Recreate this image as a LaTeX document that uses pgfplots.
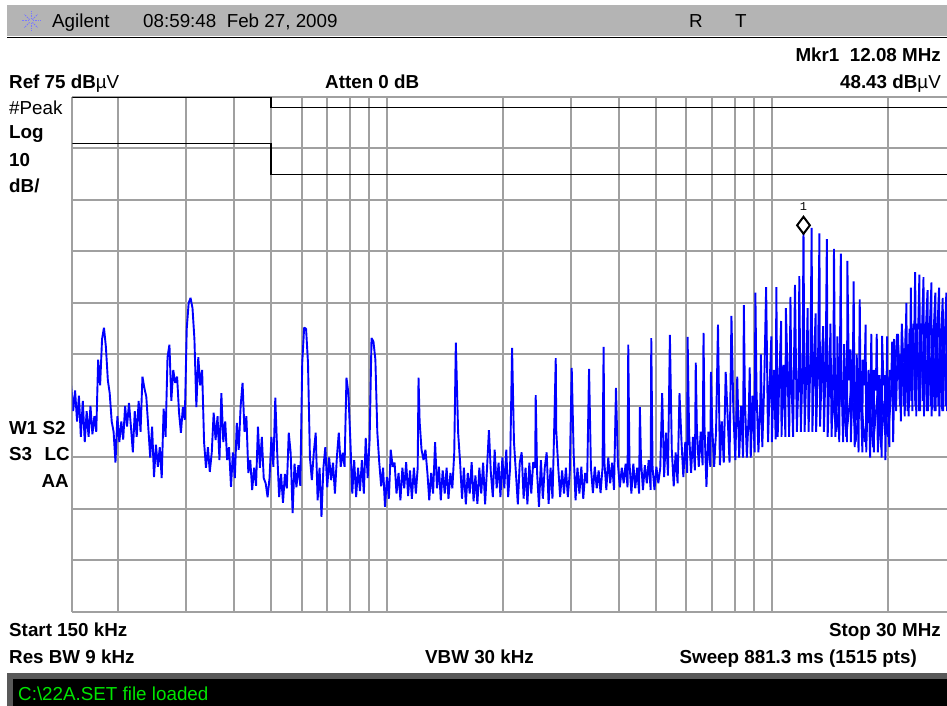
\documentclass[border=0pt]{standalone}
\usepackage{fontspec}
\setmainfont{Liberation Sans}
\setmonofont{Liberation Mono}
\usepackage{pgfplots}
\pgfplotsset{compat=1.18}
\definecolor{gridgray}{RGB}{160,160,160}
\definecolor{bargray}{RGB}{180,180,180}
\definecolor{tracecol}{RGB}{0,0,255}
\definecolor{msggreen}{RGB}{0,230,0}
\definecolor{logoblue}{RGB}{120,120,255}
\newcommand\lab{\fontsize{18.8}{20}\selectfont}
\begin{document}
\begin{tikzpicture}[x=1pt,y=1pt]
\useasboundingbox (0,0) rectangle (947,706);
\fill[white] (0,0) rectangle (947,706);
% top bar
\fill[bargray] (7,670) rectangle (947,701);
\draw[black,line width=1.5pt] (7,668.5) -- (947,668.5);
\foreach \a in {0,45,...,315} \draw[logoblue,line width=1pt,dash pattern=on 1.4pt off 1pt] (31,685) ++(\a:2) -- ++(\a:7.5);
% bottom bar
\fill[gray!70!black] (7,0) rectangle (947,33);
\fill[black] (13,0) rectangle (947,27);
\begin{axis}[at={(72.5pt,94pt)}, anchor=south west, scale only axis,
  width=874.5pt, height=515pt,
  xmode=log, xmin=0.1525, xmax=28.5, ymin=-25, ymax=75,
  axis line style={draw=none}, tick style={draw=none},
  xtick={0.1525,0.2,0.3,0.4,0.5,0.6,0.7,0.8,0.9,1,2,3,4,5,6,7,8,9,10,20},
  ytick={-25,-15,-5,5,15,25,35,45,55,65,75},
  xticklabels={}, yticklabels={},
  grid=major, major grid style={draw=gridgray, line width=2pt}]
% limit lines
\addplot[black, line width=1.4pt] coordinates {(0.1525,74.9) (0.5,74.9) (0.5,73) (28.5,73)};
\addplot[black, line width=1.4pt] coordinates {(0.1525,66) (0.5,66) (0.5,60) (28.5,60)};
% trace
\addplot[tracecol, line width=1.9pt, line join=bevel] coordinates {
(0.1496,17) (0.1514,19) (0.1531,14) (0.1549,18) (0.1567,12) (0.1585,17) (0.1603,9) (0.1622,16) (0.1641,8) (0.1660,14) (0.1679,9) (0.1698,15) (0.1718,9.5) (0.1738,13) (0.1758,10) (0.1778,24) (0.1799,19) (0.1820,28) (0.1841,30.2) (0.1862,26.5) (0.1884,20) (0.1905,17.5) (0.1928,12) (0.1950,10) (0.1972,4) (0.1995,13) (0.2018,8) (0.2042,12) (0.2065,8.5) (0.2089,15) (0.2113,11) (0.2138,15.6) (0.2163,11) (0.2188,6) (0.2213,14) (0.2239,9) (0.2265,16) (0.2291,10) (0.2317,20.7) (0.2344,18.5) (0.2371,16.8) (0.2399,11) (0.2427,5) (0.2455,11) (0.2483,1.2) (0.2512,7.5) (0.2541,3.2) (0.2570,7) (0.2600,1) (0.2630,14.5) (0.2661,9) (0.2692,24.5) (0.2723,26.9) (0.2754,16) (0.2786,22) (0.2818,19.5) (0.2851,20.7) (0.2884,13.7) (0.2917,9.8) (0.2951,14.8) (0.2985,12.3) (0.3020,30) (0.3055,35) (0.3090,36) (0.3126,34) (0.3162,28) (0.3199,14.8) (0.3236,24.5) (0.3273,19) (0.3311,22) (0.3350,8) (0.3388,3) (0.3428,7) (0.3467,2.2) (0.3508,6) (0.3548,13.7) (0.3589,8.4) (0.3631,13) (0.3673,4.5) (0.3715,17.5) (0.3758,8) (0.3802,12) (0.3846,4.5) (0.3890,7) (0.3936,-0.7) (0.3981,6) (0.4027,1) (0.4074,11.7) (0.4121,6.5) (0.4169,15) (0.4217,19.5) (0.4266,10) (0.4315,13) (0.4365,2) (0.4416,4.5) (0.4467,-1.3) (0.4519,3) (0.4571,-0.5) (0.4624,11) (0.4677,3) (0.4732,9) (0.4786,1) (0.4842,0) (0.4898,-2.7) (0.4955,1) (0.5012,9) (0.5070,3.2) (0.5129,16.6) (0.5188,6) (0.5248,-2.7) (0.5309,1.8) (0.5370,-3.8) (0.5433,1.8) (0.5495,-1) (0.5559,9.8) (0.5623,5.9) (0.5689,-5.8) (0.5754,3.8) (0.5821,-0.8) (0.5888,3.5) (0.5957,-0.5) (0.6026,23.4) (0.6095,30.2) (0.6166,30) (0.6237,23.4) (0.6310,5) (0.6383,0.6) (0.6457,5.9) (0.6531,9.8) (0.6607,-3.3) (0.6683,3) (0.6761,-6.5) (0.6839,3) (0.6918,7) (0.6998,-0.8) (0.7079,5) (0.7161,0.6) (0.7244,4) (0.7328,-2) (0.7413,5) (0.7499,9.8) (0.7586,3.2) (0.7674,5.9) (0.7762,3.2) (0.7852,20.5) (0.7943,17.5) (0.8035,8.4) (0.8128,-2) (0.8222,4.5) (0.8318,-2.7) (0.8414,3) (0.8511,-1.5) (0.8610,4.5) (0.8710,-2) (0.8810,8.8) (0.8913,1) (0.9016,8.4) (0.9120,28.2) (0.9226,27.5) (0.9333,24) (0.9441,10) (0.9550,4.1) (0.9661,-0.6) (0.9772,3) (0.9886,-4.6)
(1.000,1.2) (1.012,-3) (1.023,6.5) (1.035,3.2) (1.047,4) (1.059,-2) (1.072,2) (1.084,-3.3) (1.097,3) (1.109,-1) (1.122,4.1) (1.135,-2.5) (1.148,2.5) (1.161,-3) (1.175,3) (1.189,-2) (1.202,3) (1.208,20.5) (1.216,12) (1.230,6.5) (1.245,4.5) (1.259,6.5) (1.274,2) (1.288,-3.3) (1.303,2) (1.318,-2) (1.334,8) (1.349,-1) (1.365,3.2) (1.380,-3.3) (1.396,2.5) (1.413,-2) (1.429,3) (1.445,-3) (1.462,2) (1.479,-1) (1.496,6) (1.510,27.3) (1.514,24) (1.531,9.8) (1.549,4.1) (1.567,-3) (1.585,3) (1.603,-4.1) (1.622,2) (1.641,-2) (1.660,4.1) (1.679,-3.5) (1.698,1.5) (1.718,-4) (1.738,3) (1.758,-2) (1.778,4) (1.799,-4.1) (1.820,3) (1.841,10.3) (1.862,2) (1.884,-2.7) (1.905,6.5) (1.928,-1) (1.950,4) (1.972,-2.7) (1.995,5) (2.018,-1) (2.042,6.5) (2.065,-2.7) (2.089,3) (2.114,26.3) (2.138,8) (2.163,2) (2.188,-4.1) (2.213,4) (2.239,6) (2.265,-3) (2.291,3) (2.317,-4.1) (2.344,4) (2.371,-2) (2.399,4.1) (2.427,3) (2.435,17.1) (2.455,2) (2.483,-4.6) (2.512,4.5) (2.541,-3) (2.570,3) (2.600,6) (2.630,-4) (2.661,3) (2.692,-3) (2.723,12.3) (2.745,24.3) (2.754,10) (2.786,3.2) (2.818,-2.7) (2.851,2.5) (2.884,-2) (2.917,3) (2.951,-2.7) (2.985,2) (3.020,22.4) (3.055,6) (3.090,-3.3) (3.126,3) (3.162,-2) (3.199,3.2) (3.236,-3) (3.273,2) (3.311,0) (3.350,22.2) (3.388,3) (3.428,-1.9) (3.467,3.2) (3.508,-1) (3.548,2.5) (3.589,-1.9) (3.631,3) (3.655,26.5) (3.673,4) (3.715,-1.3) (3.758,5) (3.802,0) (3.846,4) (3.890,-1.3) (3.936,18.5) (3.981,3.8) (4.027,-0.8) (4.074,3) (4.121,0) (4.169,3.8) (4.217,-0.8) (4.235,26.9) (4.266,4) (4.315,-2) (4.365,3.8) (4.416,-1) (4.467,3) (4.519,-2) (4.540,14.8) (4.571,4.5) (4.624,-1.3) (4.677,3.5) (4.732,0) (4.786,4.5) (4.842,-1.3) (4.860,28.2) (4.898,3) (4.955,-1.3) (5.012,3.2) (5.070,0) (5.129,3) (5.188,17.5) (5.248,1.2) (5.309,9.8) (5.370,1.5) (5.433,28.8) (5.495,6.5) (5.559,-0.6) (5.623,6) (5.689,0) (5.754,17.5) (5.821,8.4) (5.888,1.2) (5.957,8) (6.026,2) (6.040,28.4) (6.095,9.8) (6.166,2) (6.237,9) (6.310,2.5) (6.342,23.4) (6.383,11) (6.457,3.2) (6.531,10) (6.607,3.5) (6.644,29.2) (6.683,11) (6.761,-0.7) (6.839,10) (6.918,3.2) (6.946,21.6) (6.998,11) (7.079,3.2) (7.161,10) (7.244,30.8) (7.328,3.5) (7.413,12) (7.499,4) (7.586,21.6) (7.674,13) (7.762,4) (7.852,32.5) (7.943,14) (8.035,4.5) (8.128,20.7) (8.222,5) (8.318,15) (8.414,5) (8.456,34.6) (8.511,16) (8.610,5) (8.710,14) (8.758,22.5) (8.811,5) (8.913,17) (9.016,6) (9.060,37) (9.120,18) (9.226,6) (9.333,16) (9.362,25) (9.441,7) (9.550,19) (9.661,38.1) (9.772,8) (9.886,21) (9.966,28.5)
(10.00,8) (10.12,22) (10.23,8.5) (10.268,38.1) (10.35,9) (10.47,22) (10.57,31.5) (10.59,9) (10.72,23) (10.84,9) (10.872,34) (10.97,23) (11.09,9) (11.174,36.2) (11.22,23) (11.35,9) (11.48,38.5) (11.61,10) (11.75,23) (11.778,40.2) (11.89,10) (12.02,24) (12.08,49.5) (12.16,10) (12.30,23) (12.382,34) (12.45,10) (12.59,24) (12.684,49.6) (12.74,10) (12.88,24) (12.986,33) (13.03,10) (13.18,24) (13.288,48.5) (13.34,11) (13.49,24) (13.59,30.5) (13.65,10) (13.80,24) (13.892,47.4) (13.96,9) (14.13,23) (14.194,31) (14.29,9) (14.45,23) (14.496,45.5) (14.62,9) (14.79,22) (14.798,28.5) (14.96,8) (15.10,44.6) (15.14,22) (15.31,8) (15.402,27) (15.49,21) (15.67,8) (15.704,43.2) (15.85,20) (16.006,26) (16.03,8) (16.22,20) (16.308,39.2) (16.41,7) (16.60,19) (16.61,25) (16.79,6) (16.912,35.7) (16.98,19) (17.18,6) (17.214,24) (17.38,19) (17.516,30.8) (17.58,6) (17.78,19) (17.818,22) (17.99,5) (18.12,29) (18.20,19) (18.41,6) (18.422,22) (18.62,18) (18.724,29) (18.84,6) (19.026,21) (19.06,19) (19.28,5) (19.328,28.6) (19.50,19) (19.63,21) (19.72,4.5) (19.932,28.5) (19.95,18) (20.18,7) (20.234,22) (20.42,20) (20.536,27.5) (20.65,8) (20.838,24) (20.89,22) (21.14,29) (21.38,24) (21.442,25) (21.63,12) (21.744,31) (21.88,26) (22.046,26) (22.13,13) (22.348,35) (22.39,28) (22.65,13) (22.91,29) (22.952,38) (23.17,14) (23.254,30) (23.44,30) (23.556,41) (23.71,13) (23.858,31) (23.99,30) (24.16,40.5) (24.27,14) (24.462,31) (24.55,30) (24.764,40) (24.83,13) (25.066,31) (25.12,30) (25.368,37.5) (25.41,14) (25.67,31) (25.70,30) (25.972,39) (26.00,13) (26.274,30) (26.30,29) (26.576,37) (26.61,14) (26.878,31) (26.92,30) (27.18,38) (27.23,13) (27.482,30) (27.54,29) (27.784,36) (27.86,14) (28.086,30) (28.18,30) (28.388,37) (28.51,14) (28.84,30) (29.17,14) (29.5,30) (30.0,15)
};
% dense part of the trace between the comb lines
\addplot[tracecol, line width=1.9pt, line join=bevel] coordinates {
(14.30,18) (14.70,10) (15.20,20) (15.60,9) (16.10,19) (16.50,8) (17.00,18) (17.40,8) (17.90,17) (18.30,7) (18.80,17) (19.20,7) (19.60,16) (20.00,9)
(20.30,15) (20.77,28) (21.01,14) (21.26,29) (21.50,15) (21.76,28) (22.00,15) (22.26,30) (22.52,14) (22.78,30) (23.04,16) (23.30,31) (23.58,15) (23.85,30) (24.13,14) (24.41,31) (24.69,16) (24.97,30) (25.26,14) (25.55,31) (25.85,15) (26.15,30) (26.45,14) (26.76,31) (27.07,15) (27.38,30) (27.70,14) (28.02,30) (28.34,15) (28.67,29)
};
% marker
\addplot[only marks, black, mark=diamond*, mark size=8.5pt, mark options={yshift=8.5pt, fill=white, line width=2pt}] coordinates {(12.08,48.43)};
\node[font=\ttfamily\fontsize{12}{13}\selectfont, yshift=27pt] at (axis cs:12.08,48.43) {1};
\end{axis}
% texts
\begin{scope}[every node/.style={inner sep=0pt}]
\node[anchor=base west] at (52,678) {\lab Agilent};
\node[anchor=base west] at (143,678) {\lab 08:59:48\ \ Feb 27, 2009};
\node[anchor=base west] at (689,678) {\lab R};
\node[anchor=base west] at (735,678) {\lab T};
\node[anchor=base east] at (941,644) {\lab\bfseries Mkr1\ \ 12.08 MHz};
\node[anchor=base east] at (941,617) {\lab\bfseries 48.43 dB{\mdseries µV}};
\node[anchor=base west] at (9,617) {\lab\bfseries Ref 75 dB{\mdseries µV}};
\node[anchor=base west] at (325,617) {\lab\bfseries Atten 0 dB};
\node[anchor=base west] at (9,591) {\lab \#Peak};
\node[anchor=base west] at (9,567) {\lab\bfseries Log};
\node[anchor=base west] at (9,539) {\lab\bfseries 10};
\node[anchor=base west] at (9,513) {\lab\bfseries dB/};
\node[anchor=base west] at (9,271) {\lab\bfseries W1 S2};
\node[anchor=base west] at (9,245) {\lab\bfseries S3};
\node[anchor=base east] at (70,245) {\lab\bfseries LC};
\node[anchor=base east] at (69,218) {\lab\bfseries AA};
\node[anchor=base west] at (9,69) {\lab\bfseries Start 150 kHz};
\node[anchor=base west] at (9,42) {\lab\bfseries Res BW 9 kHz};
\node[anchor=base west] at (425,42) {\lab\bfseries VBW 30 kHz};
\node[anchor=base east] at (941,69) {\lab\bfseries Stop 30 MHz};
\node[anchor=base east] at (917,42) {\lab\bfseries Sweep 881.3 ms (1515 pts)};
\node[anchor=base west] at (18,5) {\lab\color{msggreen}C:\textbackslash 22A.SET file loaded};
\end{scope}
\end{tikzpicture}
\end{document}
